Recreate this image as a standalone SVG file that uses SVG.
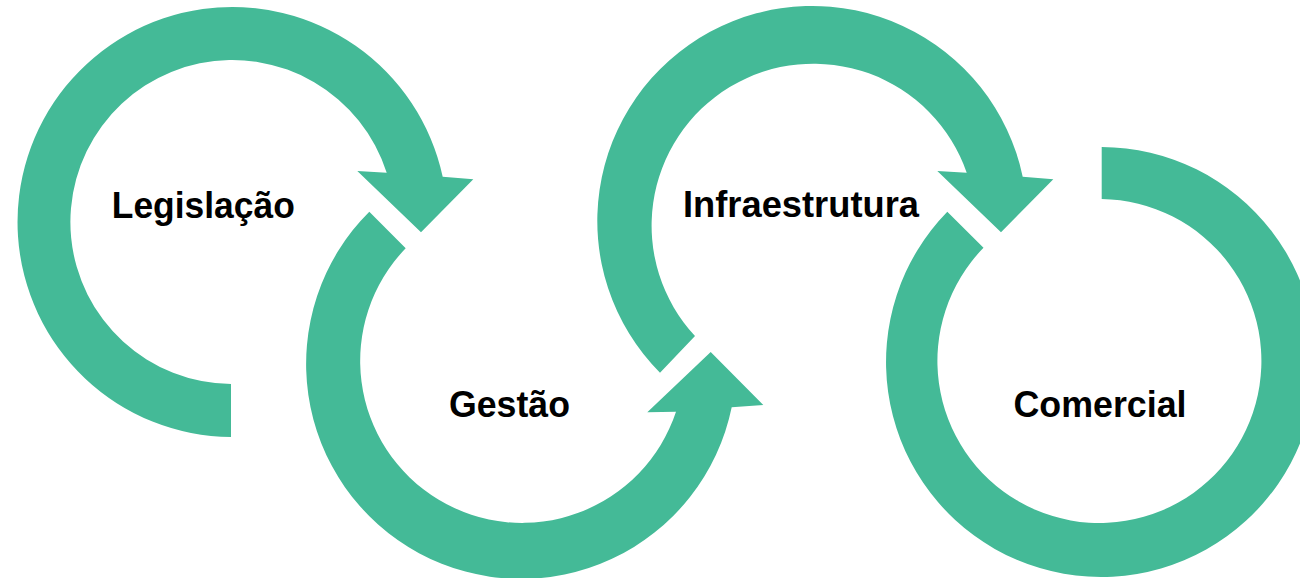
<svg xmlns="http://www.w3.org/2000/svg" width="1300" height="578" viewBox="0 0 1300 578">
<style>
.arrow{fill:#44BA97;stroke:none}
.lbl{font-family:"Liberation Sans",Arial,sans-serif;font-weight:bold;font-size:36px;fill:#000;text-anchor:middle}
</style>
<rect width="1300" height="578" fill="#fff"/>
<g id="connectors">
<path class="arrow" d="M231,437 A215,215 0 1 1 442.7,176.7 L473.3,179.3 L421,232.3 L357.3,171 L386.7,172.7 A162,162 0 1 0 231,384 Z"/>
<path class="arrow" d="M369.3,211.7 A215,215 0 1 0 731.7,407.3 L763.3,405 L710.7,352 L647.3,412.3 L676,411.7 A162,162 0 1 1 405.7,248.3 Z"/>
<path class="arrow" d="M660,372.7 A215,215 0 1 1 1022.7,176.7 L1053.3,179.3 L1001,232.3 L937.3,171 L966.7,172.7 A162,162 0 1 0 695,336 Z"/>
<path class="arrow" d="M947.3,211.7 A215,215 0 1 0 1101.7,147 L1101.7,199 A162,162 0 1 1 983.5,247.8 Z"/>
</g>
<g id="node-legislacao"><text class="lbl" x="203.3" y="218" textLength="183" lengthAdjust="spacingAndGlyphs">Legislação</text></g>
<g id="node-gestao"><text class="lbl" x="509.5" y="417" textLength="121" lengthAdjust="spacingAndGlyphs">Gestão</text></g>
<g id="node-infraestrutura"><text class="lbl" x="801" y="217" textLength="236" lengthAdjust="spacingAndGlyphs">Infraestrutura</text></g>
<g id="node-comercial"><text class="lbl" x="1100" y="417" textLength="173" lengthAdjust="spacingAndGlyphs">Comercial</text></g>
</svg>
